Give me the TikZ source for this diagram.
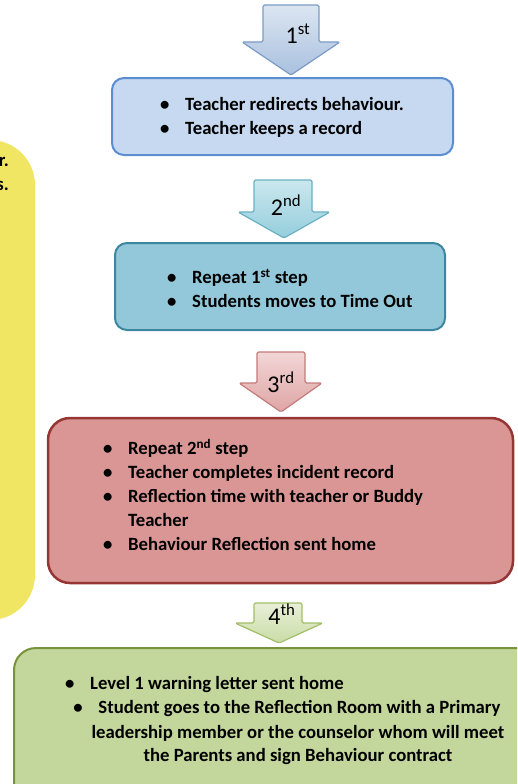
\documentclass[tikz,border=0pt]{standalone}
\usepackage{fontspec}
\setmainfont{Carlito}
\definecolor{notefill}{HTML}{F1E664}
\definecolor{onefill}{HTML}{C6D9F1}
\definecolor{oneline}{HTML}{5B8DD0}
\definecolor{onetop}{HTML}{DCE6F2}
\definecolor{onebot}{HTML}{A9C0DE}
\definecolor{oneedge}{HTML}{7B9CC6}
\definecolor{twofill}{HTML}{92C8DA}
\definecolor{twoline}{HTML}{3C879E}
\definecolor{twotop}{HTML}{CBE7EE}
\definecolor{twobot}{HTML}{94CEDC}
\definecolor{twoedge}{HTML}{6AB0C4}
\definecolor{threefill}{HTML}{D99694}
\definecolor{threeline}{HTML}{963634}
\definecolor{threetop}{HTML}{F2D6D6}
\definecolor{threebot}{HTML}{DFA5A5}
\definecolor{threeedge}{HTML}{C47B7B}
\definecolor{fourfill}{HTML}{C3D69B}
\definecolor{fourline}{HTML}{77933C}
\definecolor{fourtop}{HTML}{E8EFD8}
\definecolor{fourbot}{HTML}{CADCA6}
\definecolor{fouredge}{HTML}{A2BE68}
\newcommand{\bul}{\makebox[25pt][l]{\textbullet}}
\begin{document}
\begin{tikzpicture}[
  x=1pt, y=-1pt,
  font=\fontsize{18.7}{24}\selectfont\bfseries,
  stepbox/.style={rectangle, rounded corners=12pt, line width=2pt, inner sep=0pt},
  blockarrow/.style={line width=1.2pt, line join=round, rounded corners=1.5pt},
  steptext/.style={anchor=west, align=left, inner sep=0pt},
  ordlabel/.style={font=\fontsize{24}{26}\selectfont, inner sep=0pt}
]
\useasboundingbox (0,0) rectangle (517,784);
\clip (0,0) rectangle (517,784);
% note box on the left (cut off)
\fill[notefill, rounded corners=45pt] (-80,140) rectangle (35,620);
\node[anchor=east, inner sep=0pt] (noteA) at (9,162) {r.};
\node[anchor=east, inner sep=0pt] (noteB) at (9,186) {s.};
% step boxes
\node[stepbox, fill=onefill, draw=oneline, minimum width=341pt, minimum height=77pt]
  (box1) at (282.5,116.5) {};
\node[stepbox, fill=twofill, draw=twoline, minimum width=330pt, minimum height=87pt]
  (box2) at (280,286.5) {};
\node[stepbox, fill=threefill, draw=threeline, line width=2.5pt, rounded corners=22pt,
  minimum width=465pt, minimum height=165pt] (box3) at (280.5,500.5) {};
\node[stepbox, fill=fourfill, draw=fourline, rounded corners=22pt,
  minimum width=560pt, minimum height=200pt, anchor=north west] (box4) at (13,647) {};
% texts
\node[steptext] (t1) at (160,117) {\bul Teacher redirects behaviour.\\\bul Teacher keeps a record};
\node[steptext] (t2) at (167,288.5) {\bul Repeat 1\textsuperscript{st} step\\\bul Students moves to Time Out};
\node[steptext] (t3) at (103,495) {\bul Repeat 2\textsuperscript{nd} step\\
  \bul Teacher completes incident record\\
  \bul Reflection time with teacher or Buddy\\
  \hspace*{25pt}Teacher\\
  \bul Behaviour Reflection sent home};
\node[steptext] (t4a) at (65,685) {\bul Level 1 warning letter sent home};
\node[align=center, inner sep=0pt] (t4b) at (298,733)
  {\bul Student goes to the Reflection Room with a Primary\hspace*{22pt}\\
   leadership member or the counselor whom will meet\\
   the Parents and sign Behaviour contract};
% block arrows
\draw[blockarrow, top color=onetop, bottom color=onebot, draw=oneedge]
  (263,5) -- (319,5) -- (319,42) -- (340,42) -- (291,75) -- (242,42) -- (263,42) -- cycle;
\draw[blockarrow, top color=twotop, bottom color=twobot, draw=twoedge]
  (254,180) -- (312,180) -- (312,212) -- (330,212) -- (284,238) -- (238,212) -- (254,212) -- cycle;
\draw[blockarrow, top color=threetop, bottom color=threebot, draw=threeedge]
  (257,352) -- (305,352) -- (305,383) -- (322,383) -- (281,412) -- (239,383) -- (257,383) -- cycle;
\draw[blockarrow, top color=fourtop, bottom color=fourbot, draw=fouredge]
  (254,603) -- (302,603) -- (302,623) -- (323,623) -- (279,643) -- (235,623) -- (254,623) -- cycle;
\node[ordlabel] (ord1) at (298,34) {1\textsuperscript{st}};
\node[ordlabel] (ord2) at (286,205) {2\textsuperscript{nd}};
\node[ordlabel] (ord3) at (281,382) {3\textsuperscript{rd}};
\node[ordlabel] (ord4) at (282,614) {4\textsuperscript{th}};
\end{tikzpicture}
\end{document}
